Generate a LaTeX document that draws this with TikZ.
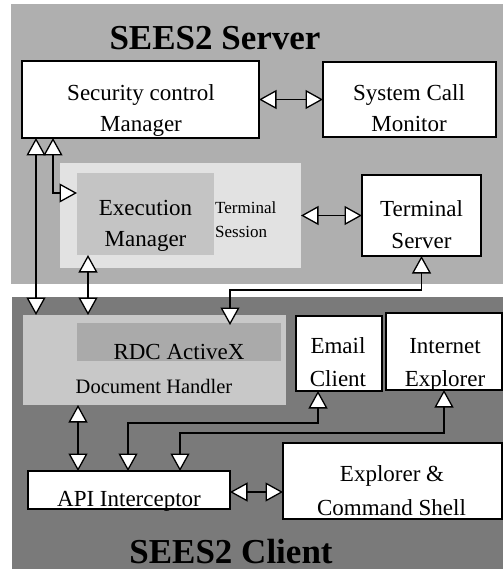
\documentclass[tikz,border=0pt]{standalone}
\usepackage{fontspec}
\setmainfont{Liberation Serif}
\usetikzlibrary{arrows.meta,calc}
\definecolor{srvbg}{HTML}{AFAFAF}
\definecolor{clibg}{HTML}{7A7A7A}
\definecolor{tsbg}{HTML}{E2E2E2}
\definecolor{embg}{HTML}{C4C4C4}
\definecolor{dhbg}{HTML}{C8C8C8}
\definecolor{rdcbg}{HTML}{AAAAAA}
\tikzset{
  wbox/.style={draw=black, line width=1.3pt, fill=white, inner sep=0pt, outer sep=0pt},
  gbox/.style={draw=none, inner sep=0pt, outer sep=0pt},
  lbl/.style={anchor=base, inner sep=0pt, font=\fontsize{23}{28}\selectfont},
  slbl/.style={anchor=base west, inner sep=0pt, font=\fontsize{17}{20}\selectfont},
  dlbl/.style={anchor=base, inner sep=0pt, font=\fontsize{20.5}{24}\selectfont},
  ttl/.style={anchor=base, inner sep=0pt, font=\fontsize{35}{40}\selectfont\bfseries},
  arr/.style={line width=1.3pt,
    {Triangle[fill=white, length=17.5pt, width=19pt]}-{Triangle[fill=white, length=17.5pt, width=19pt]}}
}
\begin{document}
\begin{tikzpicture}[x=1pt, y=-1pt]
\useasboundingbox (0,0) rectangle (503,569);
\fill[white] (0,0) rectangle (503,569);
% backgrounds
\node[gbox, fill=srvbg, minimum width=492pt, minimum height=280pt] (srv) at (257,144) {};
\node[gbox, fill=clibg, minimum width=491pt, minimum height=272pt] (cli) at (257.5,433) {};
% server boxes
\node[wbox, minimum width=237pt, minimum height=77pt] (scm) at (140.5,99.5) {};
\node[wbox, minimum width=173pt, minimum height=75pt] (scmon) at (409.5,99.5) {};
\node[gbox, fill=tsbg, minimum width=241pt, minimum height=105pt] (ts) at (180.5,215.5) {};
\node[gbox, fill=embg, minimum width=137pt, minimum height=82pt] (em) at (145.5,214) {};
\node[wbox, minimum width=119pt, minimum height=81pt] (tsv) at (421.5,215.5) {};
% client boxes
\node[gbox, fill=dhbg, minimum width=263pt, minimum height=90pt] (dh) at (154.5,360) {};
\node[gbox, fill=rdcbg, minimum width=204pt, minimum height=38pt] (rdc) at (179,342) {};
\node[wbox, minimum width=86pt, minimum height=75pt] (email) at (339,353.5) {};
\node[wbox, minimum width=116pt, minimum height=77pt] (ie) at (444,351.5) {};
\node[wbox, minimum width=202pt, minimum height=38pt] (api) at (129,490) {};
\node[wbox, minimum width=219pt, minimum height=76pt] (expl) at (392.5,481) {};
% labels
\node[ttl] (t-srv) at (215,50) {SEES2 Server};
\node[ttl] (t-cli) at (231,563) {SEES2 Client};
\node[lbl] (t-scm1) at (141,101) {Security control};
\node[lbl] (t-scm2) at (141,132) {Manager};
\node[lbl] (t-mon1) at (409,101) {System Call};
\node[lbl] (t-mon2) at (409,132) {Monitor};
\node[lbl] (t-em1) at (145.5,215) {Execution};
\node[lbl] (t-em2) at (145.5,246.5) {Manager};
\node[slbl] (t-ts1) at (215,213) {Terminal};
\node[slbl] (t-ts2) at (215,237) {Session};
\node[lbl] (t-tsv1) at (421.5,216) {Terminal};
\node[lbl] (t-tsv2) at (421.5,248) {Server};
\node[lbl] (t-rdc) at (179,359) {RDC ActiveX};
\node[dlbl] (t-dh) at (154,393) {Document Handler};
\node[lbl] (t-em1c) at (338,353) {Email};
\node[lbl] (t-em2c) at (338,386) {Client};
\node[lbl] (t-ie1) at (445,353) {Internet};
\node[lbl] (t-ie2) at (445,386) {Explorer};
\node[lbl] (t-api) at (129,506.5) {API Interceptor};
\node[lbl] (t-ex1) at (392,481) {Explorer \&};
\node[lbl] (t-ex2) at (391.5,515) {Command Shell};
% connectors
\draw[arr] (scm) -- (scmon);
\draw[arr] ([xshift=14pt]scm.south west) -- ([xshift=14pt]scm.south west |- dh.north);
\draw[arr] ([xshift=31pt]scm.south west) |- ([yshift=21pt]em.west);
\draw[arr] ([xshift=-57.5pt]em.south) -- ([xshift=-57.5pt]em.south |- dh.north);
\draw[arr] (ts) -- (tsv);
\draw[arr] (tsv.south) -- ++(0,34) -| ([xshift=51pt,yshift=-2pt]rdc.north);
\draw[arr] ([xshift=55pt]dh.south west) -- ([xshift=55pt]dh.south west |- api.north);
\draw[arr] ([xshift=-21pt]email.south) -- ++(0,32) -| ([xshift=-1pt]api.north);
\draw[arr] (ie.south) -- ++(0,43) -| ([xshift=51pt]api.north);
\draw[arr] ([yshift=-2pt]api.east) -- ([yshift=-2pt]api.east -| expl.west);
\end{tikzpicture}
\end{document}
